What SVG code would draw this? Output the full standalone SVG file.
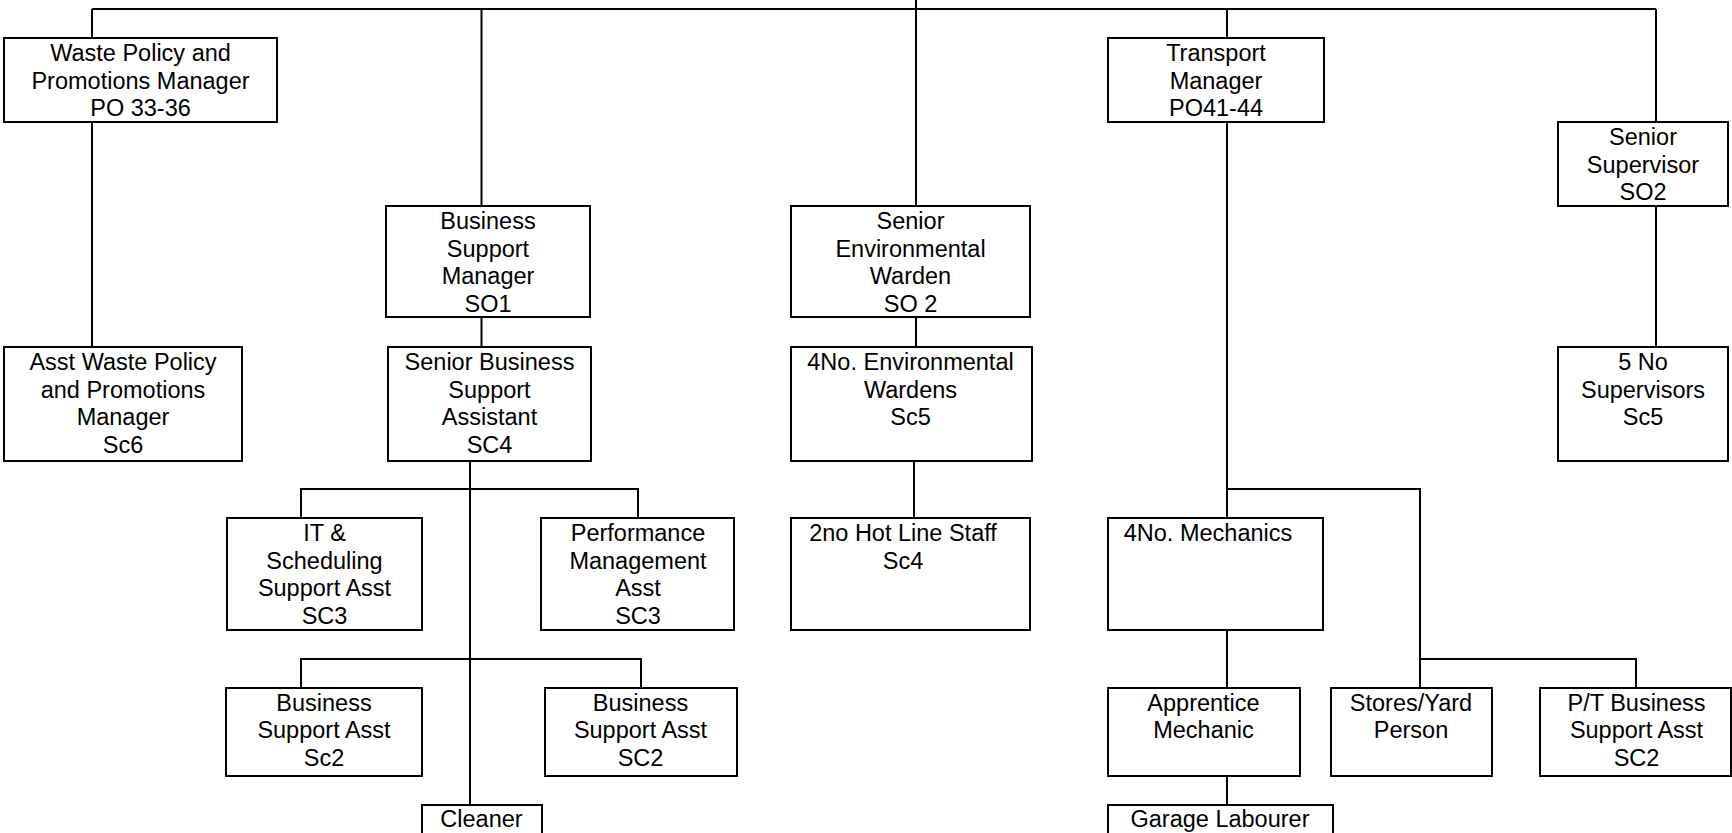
<svg xmlns="http://www.w3.org/2000/svg" width="1732" height="833" viewBox="0 0 1732 833">
<style>
rect{fill:#fff;stroke:#000;stroke-width:2}
.c path{fill:none;stroke:#000;stroke-width:2}
text{font-family:"Liberation Sans",Arial,sans-serif;font-size:23.5px;fill:#000;text-anchor:middle}
</style>
<rect x="0" y="0" width="1732" height="833" style="stroke:none"/>
<g class="c" id="connectors">
<path d="M92 9H1656"/>
<path d="M916 0V206"/>
<path d="M92 9V38M92 122V347"/>
<path d="M481.5 9V206M481.5 317V347"/>
<path d="M1227 9V38M1227 122V518"/>
<path d="M1656 9V122M1656 206V347"/>
<path d="M916 317V347M914 461V518"/>
<path d="M470 461V805"/>
<path d="M301 518V489H638V518"/>
<path d="M301 688V659H641V688"/>
<path d="M1227 489H1420V688M1420 659H1636V688"/>
<path d="M1227 630V688M1227 776V805"/>
</g>
<g id="waste"><rect x="4" y="38" width="273" height="84"/><text x="140.5" y="61">Waste Policy and</text><text x="140.5" y="88.5">Promotions Manager</text><text x="140.5" y="116">PO 33-36</text></g>
<g id="bsm"><rect x="386" y="206" width="204" height="111"/><text x="488" y="229">Business</text><text x="488" y="256.5">Support</text><text x="488" y="284">Manager</text><text x="488" y="311.5">SO1</text></g>
<g id="sew"><rect x="791" y="206" width="239" height="111"/><text x="910.5" y="229">Senior</text><text x="910.5" y="256.5">Environmental</text><text x="910.5" y="284">Warden</text><text x="910.5" y="311.5">SO 2</text></g>
<g id="tm"><rect x="1108" y="38" width="216" height="84"/><text x="1216" y="61">Transport</text><text x="1216" y="88.5">Manager</text><text x="1216" y="116">PO41-44</text></g>
<g id="ss"><rect x="1558" y="122" width="170" height="84"/><text x="1643" y="145.3">Senior</text><text x="1643" y="172.5">Supervisor</text><text x="1643" y="199.5">SO2</text></g>
<g id="asstwaste"><rect x="4" y="347" width="238" height="114"/><text x="123" y="370">Asst Waste Policy</text><text x="123" y="397.5">and Promotions</text><text x="123" y="425">Manager</text><text x="123" y="452.5">Sc6</text></g>
<g id="sbsa"><rect x="388" y="347" width="203" height="114"/><text x="489.5" y="370">Senior Business</text><text x="489.5" y="397.5">Support</text><text x="489.5" y="425">Assistant</text><text x="489.5" y="452.5">SC4</text></g>
<g id="ew4"><rect x="791" y="347" width="241" height="114"/><text x="910.5" y="370">4No. Environmental</text><text x="910.5" y="397.5">Wardens</text><text x="910.5" y="425">Sc5</text></g>
<g id="sup5"><rect x="1558" y="347" width="170" height="114"/><text x="1643" y="370">5 No</text><text x="1643" y="397.5">Supervisors</text><text x="1643" y="425">Sc5</text></g>
<g id="it"><rect x="227" y="518" width="195" height="112"/><text x="324.5" y="541">IT &amp;</text><text x="324.5" y="568.5">Scheduling</text><text x="324.5" y="596">Support Asst</text><text x="324.5" y="623.5">SC3</text></g>
<g id="perf"><rect x="541" y="518" width="193" height="112"/><text x="638" y="541">Performance</text><text x="638" y="568.5">Management</text><text x="638" y="596">Asst</text><text x="638" y="623.5">SC3</text></g>
<g id="hotline"><rect x="791" y="518" width="239" height="112"/><text x="903" y="541">2no Hot Line Staff</text><text x="903" y="568.5">Sc4</text></g>
<g id="mech"><rect x="1108" y="518" width="215" height="112"/><text x="1208" y="541">4No. Mechanics</text></g>
<g id="bsa1"><rect x="226" y="688" width="196" height="88"/><text x="324" y="710.5">Business</text><text x="324" y="738">Support Asst</text><text x="324" y="765.5">Sc2</text></g>
<g id="bsa2"><rect x="545" y="688" width="192" height="88"/><text x="640.5" y="710.5">Business</text><text x="640.5" y="738">Support Asst</text><text x="640.5" y="765.5">SC2</text></g>
<g id="appr"><rect x="1108" y="688" width="192" height="88"/><text x="1203.5" y="710.5">Apprentice</text><text x="1203.5" y="738">Mechanic</text></g>
<g id="stores"><rect x="1331" y="688" width="161" height="88"/><text x="1411" y="710.5">Stores/Yard</text><text x="1411" y="738">Person</text></g>
<g id="pt"><rect x="1540" y="688" width="191" height="88"/><text x="1636.5" y="710.5">P/T Business</text><text x="1636.5" y="738">Support Asst</text><text x="1636.5" y="765.5">SC2</text></g>
<g id="cleaner"><rect x="422" y="805" width="120" height="40"/><text x="481.5" y="827">Cleaner</text></g>
<g id="garage"><rect x="1108" y="805" width="225" height="40"/><text x="1220" y="827">Garage Labourer</text></g>
</svg>
